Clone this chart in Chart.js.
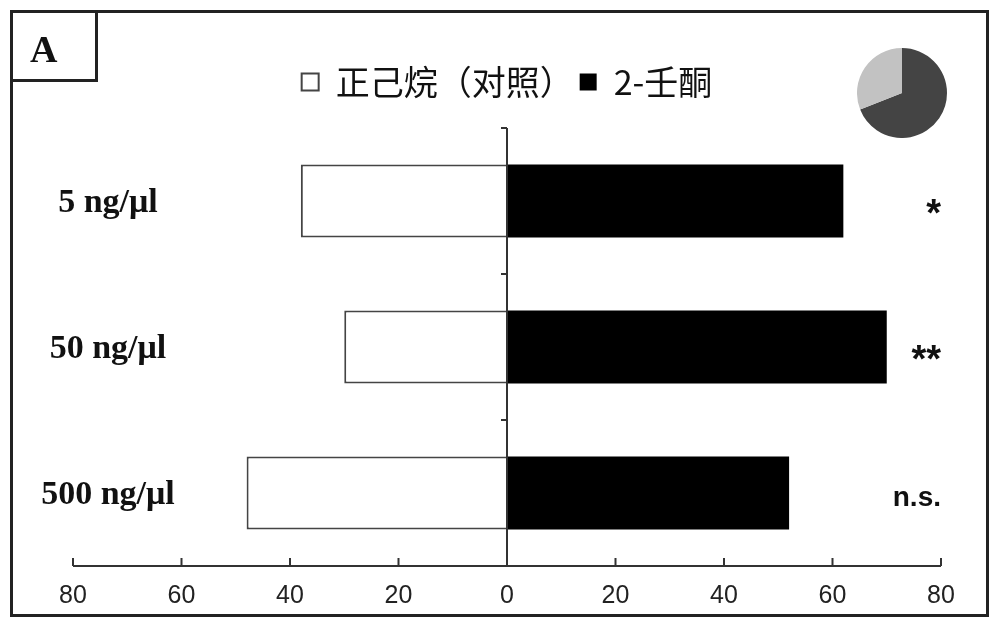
<!DOCTYPE html>
<html lang="zh-CN">
<head>
<meta charset="UTF-8" />
<title>2-壬酮 choice test</title>
<script src="https://cdn.jsdelivr.net/npm/chart.js"></script>
<style>
  html, body { margin: 0; padding: 0; background: #fff; }
  #wrap { position: relative; width: 1000px; height: 627px; }
  #frame { position: absolute; left: 10px; top: 10px; width: 979px; height: 607px; border: 3px solid #222; box-sizing: border-box; pointer-events: none; }
  #tag { position: absolute; left: 10px; top: 10px; width: 88px; height: 72px; border: 3px solid #222; box-sizing: border-box; font: bold 38px "Liberation Serif", serif; color: #111; padding-left: 17px; line-height: 72px; pointer-events: none; }
  #pie { position: absolute; left: 857px; top: 48px; }
  #choiceChart { position: absolute; left: 0; top: 0; }
</style>
</head>
<body>
<div id="wrap">
  <canvas id="choiceChart" width="1000" height="627"></canvas>
  <canvas id="pie" width="90" height="90"></canvas>
  <div id="frame"></div>
  <div id="tag">A</div>
</div>
<script>
  // values (percent of insects choosing each arm)
  const doses = ["5 ng/μl", "50 ng/μl", "500 ng/μl"];
  const controlPct = [38, 30, 48];
  const nonanonePct = [62, 70, 52];
  const significance = ["*", "**", "n.s."];
  const xTicks = [-80, -60, -40, -20, 0, 20, 40, 60, 80];
  const pieShares = [69, 31];

  Chart.defaults.font.family = '"Liberation Sans", Arial, sans-serif';

  // centre axis, bottom axis with inward ticks, dose labels and significance marks
  const axesAndNotes = {
    id: "axesAndNotes",
    afterDatasetsDraw(chart) {
      const { ctx, chartArea: area, scales } = chart;
      const xs = scales.x;
      const ys = scales.y;
      const x0 = xs.getPixelForValue(0);
      const step = ys.getPixelForValue(1) - ys.getPixelForValue(0);

      ctx.save();
      ctx.strokeStyle = "#333";
      ctx.lineWidth = 2;
      ctx.beginPath();
      ctx.moveTo(xs.getPixelForValue(xTicks[0]), area.bottom);
      ctx.lineTo(xs.getPixelForValue(xTicks[xTicks.length - 1]), area.bottom);
      xTicks.forEach((v) => {
        const x = xs.getPixelForValue(v);
        ctx.moveTo(x, area.bottom);
        ctx.lineTo(x, area.bottom - 8);
      });
      ctx.moveTo(x0, area.top);
      ctx.lineTo(x0, area.bottom);
      doses.forEach((d, i) => {
        const y = ys.getPixelForValue(i) - step / 2;
        ctx.moveTo(x0, y);
        ctx.lineTo(x0 - 6, y);
      });
      ctx.stroke();

      ctx.fillStyle = "#111";
      ctx.font = 'bold 34px "Liberation Serif", serif';
      ctx.textAlign = "center";
      ctx.textBaseline = "middle";
      doses.forEach((d, i) => {
        ctx.fillText(d, 108, ys.getPixelForValue(i) + 2);
      });

      ctx.textAlign = "right";
      ctx.textBaseline = "alphabetic";
      significance.forEach((s, i) => {
        // asterisks are set larger than the "n.s." text
        const size = s.startsWith("*") ? 38 : 28;
        ctx.font = `bold ${size}px "Liberation Sans", Arial, sans-serif`;
        const m = ctx.measureText(s);
        const y = ys.getPixelForValue(i) + (m.actualBoundingBoxAscent - m.actualBoundingBoxDescent) / 2 + 5;
        ctx.fillText(s, area.right, y);
      });
      ctx.restore();
    },
  };

  new Chart(document.getElementById("choiceChart"), {
    type: "bar",
    data: {
      labels: doses,
      datasets: [
        {
          label: "正己烷（对照）",
          data: controlPct.map((v) => -v),
          backgroundColor: "#fff",
          borderColor: "#444",
          borderWidth: 2,
          xAxisID: "x",
        },
        {
          label: "2-壬酮",
          data: nonanonePct,
          backgroundColor: "#000",
          borderColor: "#000",
          borderWidth: 0,
          xAxisID: "x",
        },
      ],
    },
    options: {
      indexAxis: "y",
      responsive: false,
      animation: false,
      categoryPercentage: 0.5,
      barPercentage: 1,
      layout: { padding: { left: 73, right: 59, top: 59, bottom: 1 } },
      plugins: {
        legend: {
          position: "top",
          labels: {
            font: { family: '"Noto Sans CJK SC", sans-serif', size: 34 },
            color: "#111",
            boxWidth: 17,
            boxHeight: 17,
            padding: 6,
          },
        },
        tooltip: { enabled: false },
      },
      scales: {
        x: {
          type: "linear",
          position: "bottom",
          stacked: true,
          min: -80,
          max: 80,
          afterBuildTicks: (s) => {
            s.ticks = xTicks.map((v) => ({ value: v }));
          },
          grid: { display: false, drawTicks: false },
          border: { display: false },
          ticks: {
            callback: (v) => Math.abs(v),
            font: { size: 25 },
            color: "#222",
            padding: 15,
            maxRotation: 0,
            autoSkip: false,
          },
        },
        // empty spacer between legend and plot
        x2: {
          type: "linear",
          position: "top",
          display: true,
          grid: { display: false, drawTicks: false },
          border: { display: false },
          ticks: { display: false },
          afterFit: (s) => {
            s.height = 19;
          },
        },
        y: { stacked: true, display: false },
      },
    },
    plugins: [axesAndNotes],
  });

  new Chart(document.getElementById("pie"), {
    type: "pie",
    data: {
      labels: ["2-壬酮", "正己烷（对照）"],
      datasets: [{ data: pieShares, backgroundColor: ["#444", "#c2c2c2"], borderWidth: 0 }],
    },
    options: {
      responsive: false,
      animation: false,
      layout: { padding: 0 },
      plugins: { legend: { display: false }, tooltip: { enabled: false } },
    },
  });
</script>
</body>
</html>
